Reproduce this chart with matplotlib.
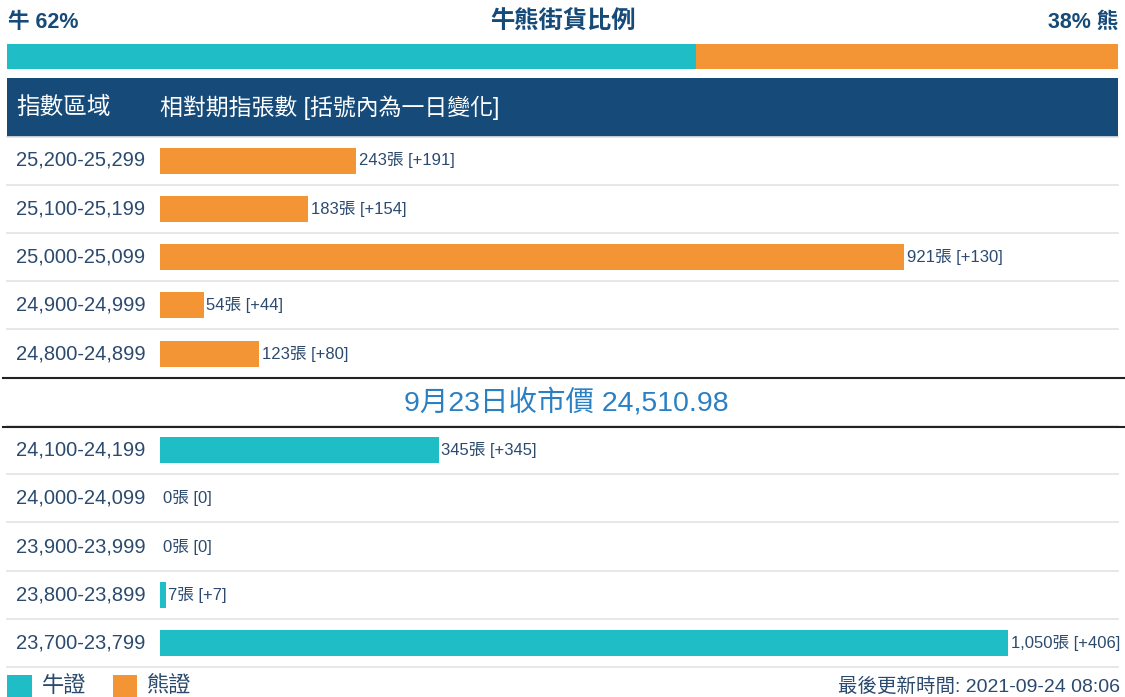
import matplotlib
matplotlib.use("Agg")
import matplotlib.pyplot as plt
from matplotlib.patches import Rectangle

plt.rcParams['font.family'] = ['Liberation Sans', 'Noto Sans CJK TC', 'DejaVu Sans']

# ---- data ----
bull_pct = 62
bear_pct = 38
bear_ranges = ["25,200-25,299", "25,100-25,199", "25,000-25,099", "24,900-24,999", "24,800-24,899"]
bear_values = [243, 183, 921, 54, 123]
bear_changes = ["+191", "+154", "+130", "+44", "+80"]
bull_ranges = ["24,100-24,199", "24,000-24,099", "23,900-23,999", "23,800-23,899", "23,700-23,799"]
bull_values = [345, 0, 0, 7, 1050]
bull_changes = ["+345", "0", "0", "+7", "+406"]
close_text = "9月23日收市價 24,510.98"
title = "牛熊街貨比例"
updated = "最後更新時間: 2021-09-24 08:06"

CYAN = "#1fbdc6"
ORANGE = "#f39535"
NAVY = "#154a79"
TXT = "#2b4a6e"

W, H = 1125, 697
fig = plt.figure(figsize=(W / 100, H / 100), dpi=100)
ax = fig.add_axes([0, 0, 1, 1])
ax.set_xlim(0, W)
ax.set_ylim(H, 0)
ax.axis("off")

# top title row
ax.text(8, 22, f"牛 {bull_pct}%", color=NAVY, fontsize=15.5, fontweight="bold", va="center", ha="left")
ax.text(563, 22, title, color=NAVY, fontsize=17.5, fontweight="bold", va="center", ha="center")
ax.text(1118, 22, f"{bear_pct}% 熊", color=NAVY, fontsize=15.5, fontweight="bold", va="center", ha="right")

# ratio bar
x0, x1 = 7, 1118
split = x0 + (x1 - x0) * bull_pct / (bull_pct + bear_pct)
ax.add_patch(Rectangle((x0, 44), split - x0, 25, color=CYAN, lw=0))
ax.add_patch(Rectangle((split, 44), x1 - split, 25, color=ORANGE, lw=0))

# header
ax.add_patch(Rectangle((x0, 78), x1 - x0, 59, color=NAVY, lw=0))
ax.text(16, 108, "指數區域", color="white", fontsize=17, va="center", ha="left")
ax.text(160, 108, "相對期指張數 [括號內為一日變化]", color="white", fontsize=16.5, va="center", ha="left")

# bar axes
px_per_unit = (1008 - 160) / 1050
bax = fig.add_axes([160 / W, 0, (W - 160) / W, 1])
bax.set_xlim(0, (W - 160) / px_per_unit)
bax.set_ylim(H, 0)
bax.axis("off")
bax.patch.set_visible(False)

step = 48.3
bear_y = [160.5 + step * i for i in range(len(bear_values))]
bull_y = [450.0 + step * i for i in range(len(bull_values))]

bax.barh(bear_y, bear_values, height=26, color=ORANGE, lw=0)
bax.barh(bull_y, bull_values, height=26, color=CYAN, lw=0)

def fmt(v, c):
    return f"{v:,}張 [{c}]"

for ys, rngs, vals, chs in [(bear_y, bear_ranges, bear_values, bear_changes),
                             (bull_y, bull_ranges, bull_values, bull_changes)]:
    for y, r, v, c in zip(ys, rngs, vals, chs):
        ax.text(16, y, r, color=TXT, fontsize=14.5, va="center", ha="left")
        bax.annotate(fmt(v, c), xy=(v, y), xytext=(2, 0), textcoords="offset points",
                     color=TXT, fontsize=12, va="center", ha="left", annotation_clip=False)
        # separators
        ax.plot([x0, x1], [y + 24, y + 24], color="#e3e3e3", lw=1.2)
    ax.plot([x0, x1], [ys[0] - 24, ys[0] - 24], color="#e3e3e3", lw=1.2)

# close price band
ax.plot([3, W], [378, 378], color="#222222", lw=1.5)
ax.plot([3, W], [427, 427], color="#222222", lw=1.5)
ax.text(566, 403, close_text, color="#2a80c3", fontsize=20.5, va="center", ha="center")

# footer legend
ax.add_patch(Rectangle((7, 675), 25, 22, color=CYAN, lw=0))
ax.text(42, 687, "牛證", color=TXT, fontsize=16, va="center", ha="left")
ax.add_patch(Rectangle((113, 675), 24, 22, color=ORANGE, lw=0))
ax.text(147, 687, "熊證", color=TXT, fontsize=16, va="center", ha="left")
ax.text(1120, 687, updated, color=TXT, fontsize=14, va="center", ha="right")

fig.savefig("out.png", dpi=100)
